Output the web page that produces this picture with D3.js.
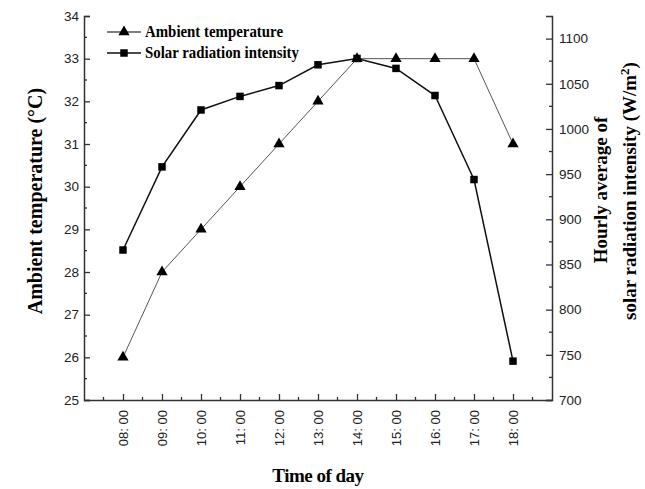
<!DOCTYPE html>
<html>
<head>
<meta charset="utf-8">
<script src="https://cdn.jsdelivr.net/npm/d3@7"></script>
<style>
  body { margin: 0; background: #fff; }
  svg { display: block; }
</style>
</head>
<body>
<script>
const largura = 645;
const altura = 489;

// dados
const horas = ["08: 00", "09: 00", "10: 00", "11: 00", "12: 00", "13: 00",
  "14: 00", "15: 00", "16: 00", "17: 00", "18: 00"];
const temperatura = [26, 28, 29, 30, 31, 32, 33, 33, 33, 33, 31];
const radiacao = [866, 958, 1021, 1036, 1048, 1071, 1078, 1067, 1037, 944, 743];
const ticksTemp = [25, 26, 27, 28, 29, 30, 31, 32, 33, 34];
const ticksRad = [700, 750, 800, 850, 900, 950, 1000, 1050, 1100];

const esq = 84, dir = 552, topo = 16, base = 400;

const svg = d3.select("body").append("svg")
  .attr("width", largura)
  .attr("height", altura);

const x = d3.scalePoint().domain(horas).range([esq, dir]).padding(1);
const yT = d3.scaleLinear().domain([25, 34]).range([base, topo]);
const yR = d3.scaleLinear().domain([700, 1125]).range([base, topo]);
const passo = x.step();

const fonteNum = "'Liberation Sans', Arial, sans-serif";
const fonteTit = "'Liberation Serif', 'Times New Roman', serif";

// eixo esquerdo
const eixoEsq = svg.append("g")
  .attr("transform", `translate(${esq},0)`)
  .call(d3.axisLeft(yT).tickValues(ticksTemp).tickFormat(d3.format("d")).tickSize(-6).tickPadding(5));

// eixo direito
const eixoDir = svg.append("g")
  .attr("transform", `translate(${dir},0)`)
  .call(d3.axisRight(yR).tickValues(ticksRad).tickFormat(d3.format("d")).tickSize(-6).tickPadding(7));

// eixo x
const eixoX = svg.append("g")
  .attr("transform", `translate(0,${base})`)
  .call(d3.axisBottom(x).tickSize(-6).tickSizeOuter(0));

[eixoEsq, eixoDir, eixoX].forEach(g => {
  g.select(".domain").attr("stroke", "#333").attr("stroke-width", 1.5);
  g.selectAll(".tick line").attr("stroke", "#333").attr("stroke-width", 1.3);
  g.selectAll("text").attr("font-family", fonteNum).attr("font-size", 13.5).attr("fill", "#222");
});

eixoX.selectAll("text")
  .attr("transform", "rotate(-90)")
  .attr("text-anchor", "end")
  .attr("x", -10)
  .attr("y", 0)
  .attr("dy", "0.35em")
  .attr("font-size", 13);

// ticks menores
const menores = svg.append("g").attr("stroke", "#333").attr("stroke-width", 1.3);
d3.range(25.5, 34, 1).forEach(v => {
  menores.append("line").attr("x1", esq).attr("x2", esq + 3).attr("y1", yT(v)).attr("y2", yT(v));
});
d3.range(725, 1125, 50).forEach(v => {
  menores.append("line").attr("x1", dir).attr("x2", dir - 3).attr("y1", yR(v)).attr("y2", yR(v));
});
[x(horas[0]) - passo / 2].concat(horas.map(h => x(h) + passo / 2)).forEach(px => {
  menores.append("line").attr("x1", px).attr("x2", px).attr("y1", base).attr("y2", base - 3);
});

// linhas
const linhaT = d3.line().x((d, i) => x(horas[i])).y(d => yT(d));
const linhaR = d3.line().x((d, i) => x(horas[i])).y(d => yR(d));

svg.append("path").datum(temperatura)
  .attr("d", linhaT).attr("fill", "none").attr("stroke", "#555").attr("stroke-width", 1);
svg.append("path").datum(radiacao)
  .attr("d", linhaR).attr("fill", "none").attr("stroke", "#111").attr("stroke-width", 1.5);

const triangulo = d3.symbol().type(d3.symbolTriangle).size(55);
const quadrado = d3.symbol().type(d3.symbolSquare).size(56);

svg.append("g").selectAll("path").data(temperatura).join("path")
  .attr("d", triangulo)
  .attr("transform", (d, i) => `translate(${x(horas[i])},${yT(d)})`)
  .attr("fill", "#000");

svg.append("g").selectAll("path").data(radiacao).join("path")
  .attr("d", quadrado)
  .attr("transform", (d, i) => `translate(${x(horas[i])},${yR(d)})`)
  .attr("fill", "#000");

// legenda
const legenda = [
  { nome: "Ambient temperature", simbolo: triangulo, cor: "#555", y: 32, largura: 138 },
  { nome: "Solar radiation intensity", simbolo: quadrado, cor: "#111", y: 53, largura: 154 }
];
legenda.forEach(l => {
  svg.append("line").attr("x1", 107).attr("x2", 141).attr("y1", l.y).attr("y2", l.y)
    .attr("stroke", l.cor).attr("stroke-width", 1.3);
  svg.append("path").attr("d", l.simbolo).attr("transform", `translate(124,${l.y})`).attr("fill", "#000");
  svg.append("text").attr("x", 145).attr("y", l.y + 5)
    .attr("font-family", fonteTit).attr("font-weight", "bold").attr("font-size", 17)
    .attr("textLength", l.largura).attr("lengthAdjust", "spacingAndGlyphs")
    .text(l.nome);
});

// titulos
svg.append("text")
  .attr("x", 318).attr("y", 482)
  .attr("text-anchor", "middle")
  .attr("font-family", fonteTit).attr("font-weight", "bold").attr("font-size", 19)
  .attr("letter-spacing", -0.5)
  .text("Time of day");

svg.append("text")
  .attr("transform", "translate(42,201) rotate(-90)")
  .attr("text-anchor", "middle")
  .attr("font-family", fonteTit).attr("font-weight", "bold").attr("font-size", 20)
  .text("Ambient temperature (°C)");

svg.append("text")
  .attr("transform", "translate(607,190) rotate(-90)")
  .attr("text-anchor", "middle")
  .attr("font-family", fonteTit).attr("font-weight", "bold").attr("font-size", 19)
  .text("Hourly average of");

const tituloDir = svg.append("text")
  .attr("transform", "translate(636,191) rotate(-90)")
  .attr("text-anchor", "middle")
  .attr("font-family", fonteTit).attr("font-weight", "bold").attr("font-size", 19);
tituloDir.append("tspan").text("solar radiation intensity (W/m");
tituloDir.append("tspan").attr("dy", -7).attr("font-size", 13).text("2");
tituloDir.append("tspan").attr("dy", 7).text(")");
</script>
</body>
</html>
